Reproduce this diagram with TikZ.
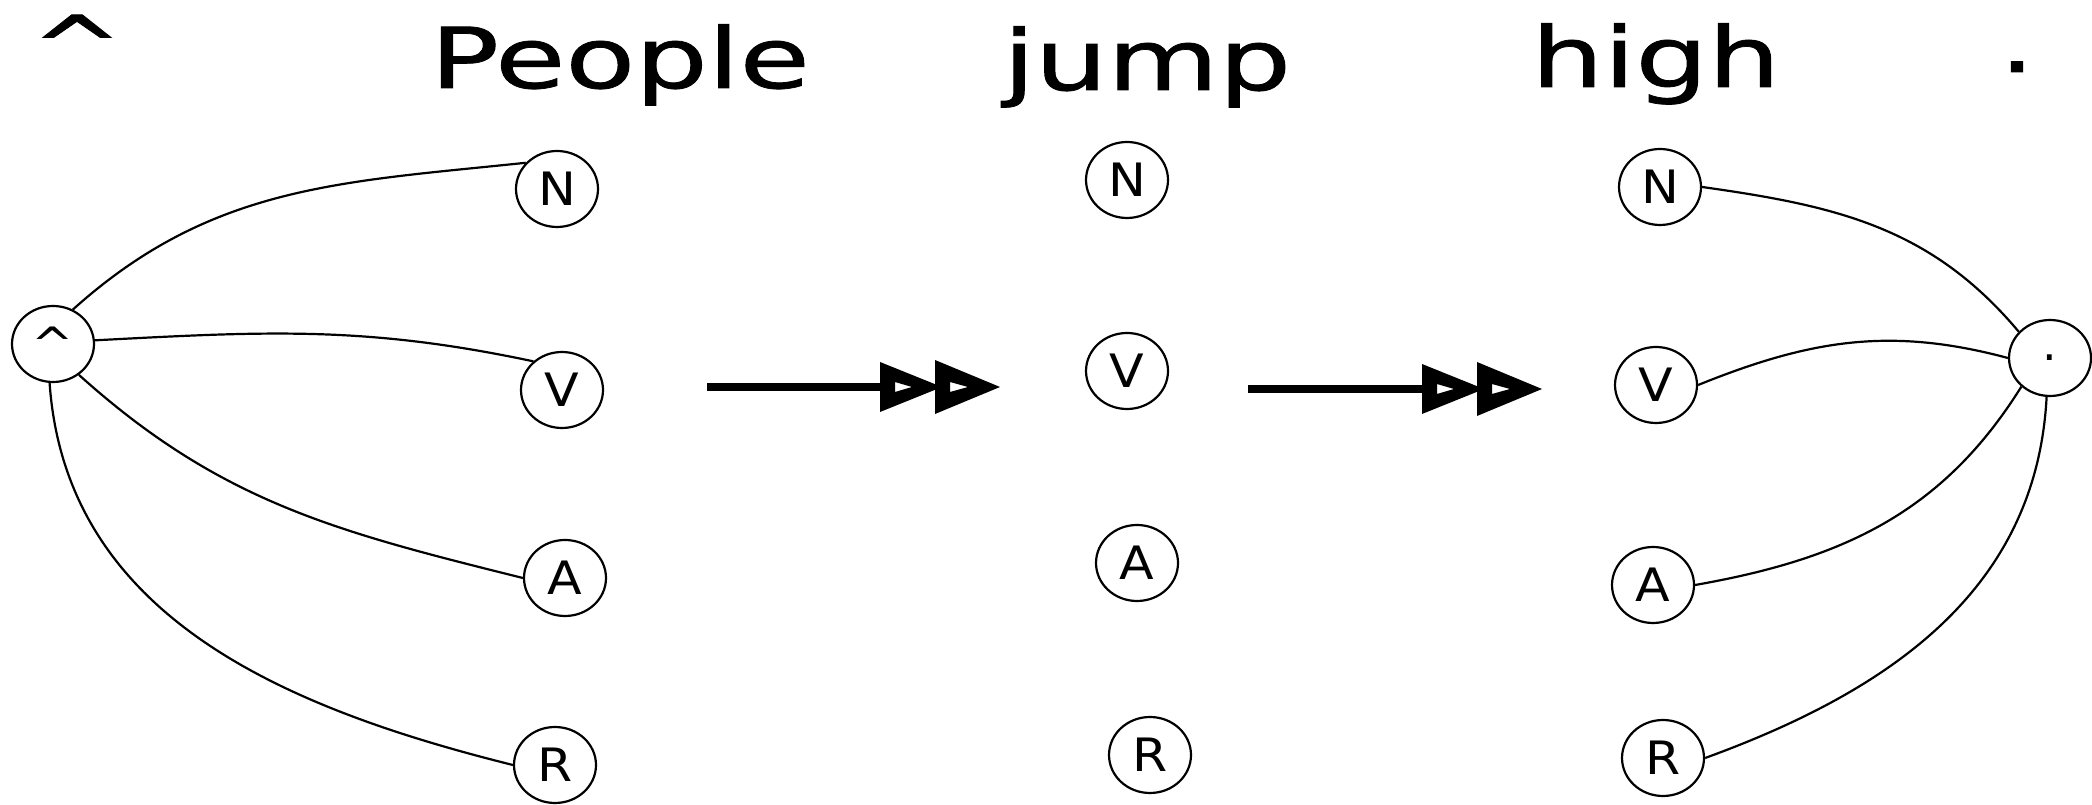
\documentclass[tikz,border=0pt]{standalone}
\usepackage{fontspec}
\setmainfont{DejaVu Sans}
\newfontfamily\wordfont[FakeBold=0.9]{DejaVu Sans}
\usetikzlibrary{shapes.geometric}
\begin{document}
\begin{tikzpicture}[x=1pt,y=1pt,
  tag/.style={draw,ellipse,line width=2.2pt,minimum width=82pt,minimum height=76pt,inner sep=0pt,
    font=\fontsize{46}{50}\selectfont},
  word/.style={anchor=base west,inner sep=0pt,font=\wordfont\fontsize{84}{100}\selectfont},
  edge/.style={line width=2.2pt},
  shaft/.style={line width=8.5pt},
  dbltip/.pic={
    \fill[even odd rule] (0,25) -- (62,0) -- (0,-25) -- cycle (15,5) -- (32,0) -- (15,-5) -- cycle;
    \fill[even odd rule] (55,27) -- (120,0) -- (55,-27) -- cycle (70,5) -- (88,0) -- (70,-5) -- cycle;
  }]
\useasboundingbox (0,0) rectangle (2092,805);
\fill[white] (0,0) rectangle (2092,805);

% words
\node[anchor=base,inner sep=0pt,font=\wordfont\fontsize{84}{100}\selectfont] (wc) at (77,729) {\scalebox{1.3}[1]{\textasciicircum}};
\node[word] (w1) at (430,717) {\scalebox{1.36}[1]{People}};
\node[word] (w2) at (1003,715) {\scalebox{1.36}[1]{jump}};
\node[word] (w3) at (1531,718) {\scalebox{1.36}[1]{high}};
\node[anchor=base,inner sep=0pt,font=\wordfont\fontsize{84}{100}\selectfont] (w4) at (2017,733) {\scalebox{1.3}[1]{.}};

% tag nodes
\node[tag] (c0) at (53,461) {\scalebox{1.1}[1]{\textasciicircum}};
\node[tag] (N1) at (557,616) {\scalebox{1.1}[1]{N}};
\node[tag] (V1) at (562,415) {\scalebox{1.1}[1]{V}};
\node[tag] (A1) at (565,227) {\scalebox{1.1}[1]{A}};
\node[tag] (R1) at (555,40) {\scalebox{1.1}[1]{R}};

\node[tag] (N2) at (1127,625) {\scalebox{1.1}[1]{N}};
\node[tag] (V2) at (1127,434) {\scalebox{1.1}[1]{V}};
\node[tag] (A2) at (1137,242) {\scalebox{1.1}[1]{A}};
\node[tag] (R2) at (1150,50) {\scalebox{1.1}[1]{R}};

\node[tag] (N3) at (1660,618) {\scalebox{1.1}[1]{N}};
\node[tag] (V3) at (1656,420) {\scalebox{1.1}[1]{V}};
\node[tag] (A3) at (1653,220) {\scalebox{1.1}[1]{A}};
\node[tag] (R3) at (1663,47) {\scalebox{1.1}[1]{R}};

\node[tag] (c1) at (2050,447) {.};

% edges left
\draw[edge] (c0.60) to[out=42,in=186] (N1.140);
\draw[edge] (c0.5) to[out=3,in=168] (V1.135);
\draw[edge] (c0.-50) to[out=-42,in=166] (A1.west);
\draw[edge] (c0.-95) to[out=-86,in=166] (R1.west);

% edges right
\draw[edge] (N3.east) to[out=-8,in=130] (c1.140);
\draw[edge] (V3.east) to[out=22,in=165] (c1.west);
\draw[edge] (A3.east) to[out=10,in=-122] (c1.-135);
\draw[edge] (R3.east) to[out=20,in=-93] (c1.-95);

% arrows
\coordinate (a1s) at (707,418);
\coordinate (a1e) at (882,418);
\draw[shaft] (a1s) -- (a1e);
\pic at (880,418) {dbltip};
\coordinate (a2s) at (1248,416);
\coordinate (a2e) at (1424,416);
\draw[shaft] (a2s) -- (a2e);
\pic at (1422,416) {dbltip};
\end{tikzpicture}
\end{document}
